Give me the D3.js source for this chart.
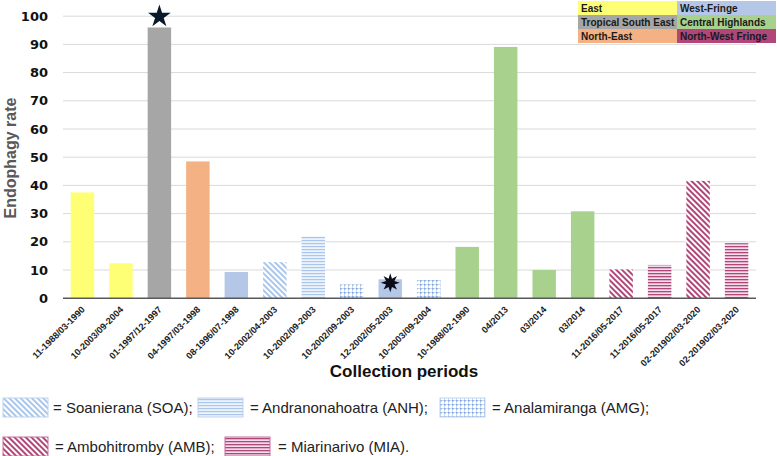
<!DOCTYPE html>
<html><head><meta charset="utf-8">
<script src="https://cdn.jsdelivr.net/npm/d3@7"></script>
<style>body{margin:0;background:#fff}svg{display:block}</style>
</head><body>
<svg id="c" width="777" height="456"></svg>
<script>
const periods = ["11-1988/03-1990","10-2003/09-2004","01-1997/12-1997","04-1997/03-1998","08-1996/07-1998","10-2002/04-2003","10-2002/09-2003","10-2002/09-2003","12-2002/05-2003","10-2003/09-2004","10-1988/02-1990","04/2013","03/2014","03/2014","11-2016/05-2017","11-2016/05-2017","02-201902/03-2020","02-201902/03-2020"];
const rates = [37.5,12.4,96,48.5,9.3,12.8,22,4.9,6.7,6.5,18.2,89.1,10,30.8,10.2,11.8,41.6,19.5];
const regions = ["East","East","Tropical South East","North-East","West-Fringe","West-Fringe","West-Fringe","West-Fringe","West-Fringe","West-Fringe","Central Highlands","Central Highlands","Central Highlands","Central Highlands","North-West Fringe","North-West Fringe","North-West Fringe","North-West Fringe"];
const sites = ["","","","","","SOA","ANH","AMG","","AMG","","","","","AMB","MIA","AMB","MIA"];
const markers = ["","","star","","","","","","burst","","","","","","","","",""];
const yTicks = [0,10,20,30,40,50,60,70,80,90,100];
const regionNames = ["East","West-Fringe","Tropical South East","Central Highlands","North-East","North-West Fringe"];
const regionColors = ["#FFFF75","#B4C7E7","#A6A6A6","#A9D18E","#F4B183","#B0467A"];
const siteLegend = [["SOA","= Soanierana (SOA);"],["ANH","= Andranonahoatra (ANH);"],["AMG","= Analamiranga (AMG);"],["AMB","= Ambohitromby (AMB);"],["MIA","= Miarinarivo (MIA)."]];

const svg = d3.select("#c");
const color = d3.scaleOrdinal(regionNames, regionColors);
const x = d3.scaleBand(d3.range(periods.length), [63, 756]).paddingInner(0.39).paddingOuter(0.2);
const y = d3.scaleLinear([0, 100], [298.2, 16.2]);

// patterns
const defs = svg.append("defs");
function stripes(id, col, diag, gap, w, bg) {
  const p = defs.append("pattern").attr("id", id).attr("patternUnits", "userSpaceOnUse")
    .attr("width", gap).attr("height", gap);
  if (diag) p.attr("patternTransform", "rotate(-45)");
  p.append("rect").attr("width", gap).attr("height", gap).attr("fill", bg || "#fff");
  if (diag) p.append("rect").attr("x", 0).attr("width", w).attr("height", gap).attr("fill", col);
  else p.append("rect").attr("y", 0).attr("width", gap).attr("height", w).attr("fill", col);
}
stripes("pSOA", "#A9C6EC", true, 4, 2);
stripes("pANH", "#A9C6EC", false, 3, 1.2, "#EEF3FB");
stripes("pAMB", "#B0467A", true, 4, 2);
stripes("pMIA", "#B0467A", false, 3, 1.3, "#F3DDE8");
{
  const p = defs.append("pattern").attr("id", "pAMG").attr("patternUnits", "userSpaceOnUse").attr("width", 4).attr("height", 4);
  p.append("rect").attr("width", 4).attr("height", 4).attr("fill", "#fff");
  p.append("rect").attr("width", 4).attr("height", 1).attr("fill", "#C9DAF2");
  p.append("rect").attr("width", 1).attr("height", 4).attr("fill", "#C9DAF2");
  p.append("rect").attr("width", 1.6).attr("height", 1.6).attr("fill", "#86A8DD");
}
const fillFor = i => sites[i] ? `url(#p${sites[i]})` : color(regions[i]);

// gridlines
svg.append("g").selectAll("line").data(yTicks.filter(d => d > 0)).join("line")
  .attr("x1", 63).attr("x2", 756).attr("y1", d => y(d)).attr("y2", d => y(d))
  .attr("stroke", "#D9D9D9").attr("stroke-width", 1);

// bars
svg.append("g").selectAll("rect").data(rates).join("rect")
  .attr("x", (d, i) => x(i)).attr("width", x.bandwidth())
  .attr("y", d => y(d)).attr("height", d => y(0) - y(d))
  .attr("fill", (d, i) => fillFor(i));

// axis line
svg.append("line").attr("x1", 63).attr("x2", 756).attr("y1", y(0)).attr("y2", y(0))
  .attr("stroke", "#595959").attr("stroke-width", 1.5);

// y axis
const yAxis = svg.append("g").attr("transform", "translate(50,0)")
  .call(d3.axisLeft(y).tickValues(yTicks).tickSize(0).tickPadding(2));
yAxis.select(".domain").remove();
yAxis.selectAll("text").attr("font-family", "DejaVu Sans, Liberation Sans, sans-serif")
  .attr("font-size", 13).attr("font-weight", "bold").attr("fill", "#111");

// x axis labels
const xAxis = svg.append("g").attr("transform", `translate(0,${y(0)})`)
  .call(d3.axisBottom(x).tickFormat(i => periods[i]).tickSize(0).tickPadding(0));
xAxis.select(".domain").remove();
xAxis.selectAll("text").attr("font-family", "Liberation Sans, Arial, sans-serif")
  .attr("font-size", 9.2).attr("font-weight", "bold").attr("fill", "#222")
  .attr("text-anchor", "end").attr("dy", null)
  .attr("transform", "translate(3,12) rotate(-45)");

// markers
const star = d3.symbol(d3.symbolStar, 160);
rates.forEach((v, i) => {
  const cx = x(i) + x.bandwidth() / 2;
  if (markers[i] === "star") {
    svg.append("path").attr("d", star()).attr("transform", `translate(${cx},${y(v) - 11})`).attr("fill", "#0b1a2a");
  } else if (markers[i] === "burst") {
    const pts = [];
    for (let k = 0; k < 16; k++) {
      const r = k % 2 ? 4.5 : 9.5, a = k * Math.PI / 8 - Math.PI / 2;
      pts.push([r * Math.cos(a), r * Math.sin(a)]);
    }
    svg.append("path").attr("d", d3.line()(pts) + "Z").attr("transform", `translate(${cx},${y(v) + 3.5})`).attr("fill", "#0b0b1a");
  }
});

// axis titles
svg.append("text").attr("transform", "translate(16,158) rotate(-90)").attr("text-anchor", "middle")
  .attr("font-family", "Liberation Sans, Arial, sans-serif").attr("font-size", 16).attr("font-weight", "bold")
  .attr("fill", "#595959").text("Endophagy rate");
svg.append("text").attr("x", 404).attr("y", 377).attr("text-anchor", "middle")
  .attr("font-family", "Liberation Sans, Arial, sans-serif").attr("font-size", 17).attr("font-weight", "bold")
  .attr("fill", "#111").text("Collection periods");

// region legend (top right)
const lg = svg.append("g");
regionNames.forEach((n, k) => {
  const col = k % 2, row = Math.floor(k / 2);
  const gx = 578 + col * 99, gy = 1 + row * 14;
  lg.append("rect").attr("x", gx).attr("y", gy).attr("width", 99).attr("height", 14).attr("fill", regionColors[k]);
  lg.append("text").attr("x", gx + 3).attr("y", gy + 11).attr("font-family", "Liberation Sans, Arial, sans-serif")
    .attr("font-size", 10).attr("font-weight", "bold").attr("fill", "#1a1a1a").text(n);
});

// site legend (bottom)
const sitePos = [[3, 398, 53], [198, 398, 250], [440, 398, 492], [3, 437, 55], [225, 437, 278]];
siteLegend.forEach(([code, label], k) => {
  const [sx, sy, tx] = sitePos[k];
  svg.append("rect").attr("x", sx).attr("y", sy).attr("width", 45).attr("height", 19)
    .attr("fill", `url(#p${code})`).attr("stroke", code === "AMB" || code === "MIA" ? "#C27099" : "#BDD3EE").attr("stroke-width", 1);
  svg.append("text").attr("x", tx).attr("y", sy + 15).attr("font-family", "Liberation Sans, Arial, sans-serif")
    .attr("font-size", 15).attr("fill", "#222").text(label);
});
</script>
</body></html>
